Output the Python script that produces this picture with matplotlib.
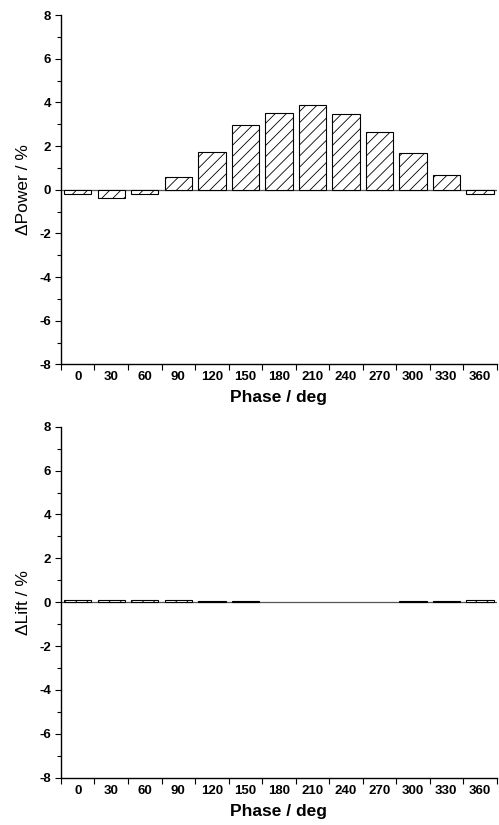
import matplotlib
matplotlib.use("Agg")
import matplotlib.pyplot as plt
from matplotlib.ticker import FixedLocator, MultipleLocator, NullFormatter
import numpy as np

plt.rcParams['font.family'] = ['Liberation Sans', 'DejaVu Sans']
plt.rcParams['axes.unicode_minus'] = False
plt.rcParams['hatch.linewidth'] = 0.6

phases = ['0', '30', '60', '90', '120', '150', '180', '210', '240', '270', '300', '330', '360']
power = [-0.18, -0.40, -0.18, 0.58, 1.72, 2.95, 3.52, 3.88, 3.45, 2.65, 1.68, 0.68, -0.18]
lift = [0.08, 0.08, 0.08, 0.08, 0.04, 0.04, 0.0, 0.0, 0.0, 0.0, 0.04, 0.04, 0.08]

fig = plt.figure(figsize=(4.99, 8.25), dpi=100)
ax1 = fig.add_axes([0.1222, 0.5582, 0.873, 0.4236])
ax2 = fig.add_axes([0.1222, 0.0573, 0.873, 0.4255])

def style(ax, vals, ylabel):
    x = np.arange(len(phases))
    ax.axhline(0, color='#555555', linewidth=0.9, zorder=1)
    edges = ['black' if v != 0 else 'none' for v in vals]
    ax.bar(x, vals, width=0.82, facecolor='white', edgecolor=edges,
           linewidth=0.8, hatch='///', zorder=2)
    ax.set_xlim(-0.5, len(phases) - 0.5)
    ax.set_ylim(-8, 8)
    ax.yaxis.set_major_locator(MultipleLocator(2))
    ax.yaxis.set_minor_locator(MultipleLocator(1))
    ax.set_xticks(x)
    ax.set_xticklabels(phases, fontweight='bold', fontsize=9.5)
    ax.xaxis.set_minor_locator(FixedLocator(np.arange(-0.5, len(phases), 1.0)))
    ax.xaxis.set_minor_formatter(NullFormatter())
    ax.tick_params(axis='x', which='major', length=0, pad=5)
    ax.tick_params(axis='x', which='minor', length=4, width=0.8, direction='out')
    ax.tick_params(axis='y', which='major', length=4, width=0.8, direction='out', pad=3)
    ax.tick_params(axis='y', which='minor', length=3, width=0.8, direction='out')
    for lab in ax.get_yticklabels():
        lab.set_fontweight('bold')
        lab.set_fontsize(9.5)
    ax.spines['top'].set_visible(False)
    ax.spines['right'].set_visible(False)
    ax.spines['left'].set_linewidth(1.0)
    ax.spines['bottom'].set_linewidth(1.0)
    ax.set_xlabel('Phase / deg', fontsize=12.5, fontweight='bold', labelpad=5)
    ax.set_ylabel(ylabel, fontsize=12.5, labelpad=6)

style(ax1, power, '\u0394Power / %')
style(ax2, lift, '\u0394Lift / %')

fig.savefig('out.png', dpi=100)
